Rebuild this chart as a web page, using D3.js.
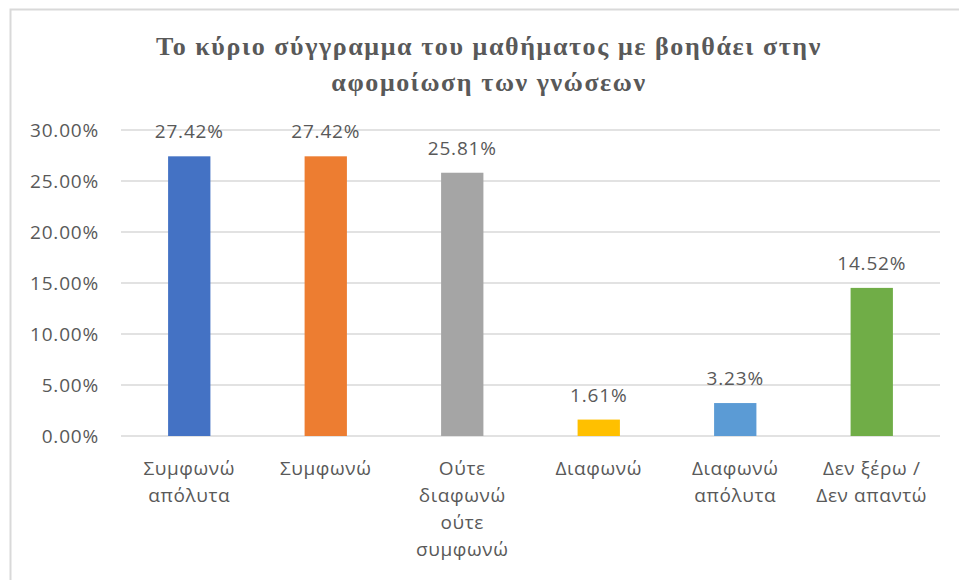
<!DOCTYPE html>
<html>
<head>
<meta charset="utf-8">
<script src="https://cdn.jsdelivr.net/npm/d3@7"></script>
<style>
  body { margin: 0; background: #fff; }
  svg { display: block; }
</style>
</head>
<body>
<div id="chart"></div>
<script>
const categories = [
  ['Συμφωνώ', 'απόλυτα'],
  ['Συμφωνώ'],
  ['Ούτε', 'διαφωνώ', 'ούτε', 'συμφωνώ'],
  ['Διαφωνώ'],
  ['Διαφωνώ', 'απόλυτα'],
  ['Δεν ξέρω /', 'Δεν απαντώ']
];
const values = [27.42, 27.42, 25.81, 1.61, 3.23, 14.52];
const colors = ['#4472C4', '#ED7D31', '#A5A5A5', '#FFC000', '#5B9BD5', '#70AD47'];
const yTicks = [0, 5, 10, 15, 20, 25, 30];
const titleLines = ['Το κύριο σύγγραμμα του μαθήματος με βοηθάει στην', 'αφομοίωση των γνώσεων'];

const width = 959;
const height = 580;
const textColor = '#595959';
const labelFont = '"Open Sans", "Noto Sans", sans-serif';

svg = d3.select('#chart').append('svg')
  .attr('width', width)
  .attr('height', height);

// chart frame
svg.append('rect')
  .attr('x', 10.5)
  .attr('y', 9.5)
  .attr('width', 970)
  .attr('height', 600)
  .attr('fill', '#fff')
  .attr('stroke', '#d9d9d9')
  .attr('stroke-width', 2);

const title = svg.append('text')
  .attr('text-anchor', 'middle')
  .attr('font-family', '"Liberation Serif", "Times New Roman", serif')
  .attr('font-weight', 'bold')
  .attr('font-size', 26)
  .attr('letter-spacing', 1.6)
  .attr('fill', textColor);
titleLines.forEach(function(t, i) {
  title.append('tspan')
    .attr('x', 489)
    .attr('y', 55 + i * 36)
    .text(t);
});

const x = d3.scaleBand()
  .domain(d3.range(categories.length))
  .range([121, 940])
  .paddingInner(0.69)
  .paddingOuter(0.345);

const y = d3.scaleLinear()
  .domain([0, 30])
  .range([436, 130]);

// gridlines
svg.append('g')
  .selectAll('line')
  .data(yTicks)
  .enter()
  .append('line')
  .attr('x1', 121)
  .attr('x2', 940)
  .attr('y1', function(d) { return y(d); })
  .attr('y2', function(d) { return y(d); })
  .attr('stroke', '#d9d9d9')
  .attr('stroke-width', 1.5);

// y axis labels
const yAxis = d3.axisLeft(y)
  .tickValues(yTicks)
  .tickSize(0)
  .tickPadding(0)
  .tickFormat(function(d) { return d.toFixed(2) + '%'; });

const yg = svg.append('g')
  .attr('transform', 'translate(99,0)')
  .call(yAxis);
yg.select('.domain').remove();
yg.selectAll('text')
  .attr('font-family', labelFont)
  .attr('font-size', 19)
  .attr('letter-spacing', 0.8)
  .attr('fill', textColor);

// bars
svg.append('g')
  .selectAll('rect')
  .data(values)
  .enter()
  .append('rect')
  .attr('x', function(d, i) { return x(i); })
  .attr('y', function(d) { return y(d); })
  .attr('width', x.bandwidth())
  .attr('height', function(d) { return y(0) - y(d); })
  .attr('fill', function(d, i) { return colors[i]; });

// data labels
svg.append('g')
  .selectAll('text')
  .data(values)
  .enter()
  .append('text')
  .attr('x', function(d, i) { return x(i) + x.bandwidth() / 2; })
  .attr('y', function(d) { return y(d) - 18; })
  .attr('text-anchor', 'middle')
  .attr('font-family', labelFont)
  .attr('font-size', 19)
  .attr('letter-spacing', 0.8)
  .attr('fill', textColor)
  .text(function(d) { return d.toFixed(2) + '%'; });

// category labels
const cat = svg.append('g')
  .selectAll('text')
  .data(categories)
  .enter()
  .append('text')
  .attr('text-anchor', 'middle')
  .attr('font-family', labelFont)
  .attr('font-size', 19)
  .attr('letter-spacing', 0.6)
  .attr('fill', textColor);

cat.each(function(lines, i) {
  const t = d3.select(this);
  lines.forEach(function(l, j) {
    t.append('tspan')
      .attr('x', x(i) + x.bandwidth() / 2)
      .attr('y', 475 + j * 27)
      .text(l);
  });
});
</script>
</body>
</html>
